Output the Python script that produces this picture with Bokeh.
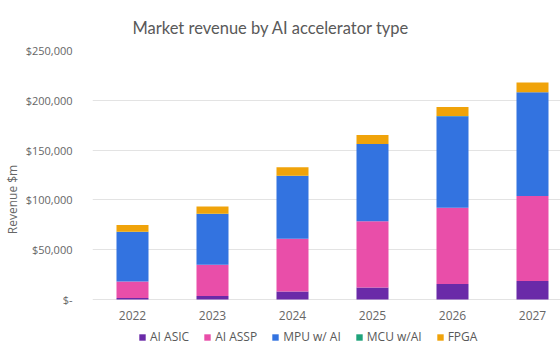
from bokeh.plotting import figure
from bokeh.models import ColumnDataSource, Range1d, FixedTicker, NumeralTickFormatter, Legend, Title
from bokeh.core.properties import value
from bokeh.embed import file_html
from bokeh.resources import INLINE

years = [2022, 2023, 2024, 2025, 2026, 2027]
year_labels = ["2022", "2023", "2024", "2025", "2026", "2027"]
ai_asic = [1500, 3500, 8000, 12000, 15500, 18500]
ai_assp = [16500, 31300, 53000, 66600, 76500, 85500]
mpu_ai = [49800, 51000, 63000, 77400, 92000, 104000]
mcu_ai = [200, 200, 200, 200, 200, 200]
fpga = [6700, 7300, 8500, 9000, 9000, 9700]
series = ["AI ASIC", "AI ASSP", "MPU w/ AI", "MCU w/AI", "FPGA"]
colors = ["#6a2aa8", "#e94ea9", "#3373e0", "#1fa37a", "#f0a30a"]
y_ticks = [0, 50000, 100000, 150000, 200000, 250000]

keys = ["asic", "assp", "mpu", "mcu", "fpga"]
source = ColumnDataSource(dict(x=years, asic=ai_asic, assp=ai_assp, mpu=mpu_ai, mcu=mcu_ai, fpga=fpga))
label_src = ColumnDataSource(dict(x=years, y=[0] * len(years), text=year_labels))

p = figure(width=560, height=348, output_backend="svg", toolbar_location=None,
           x_range=Range1d(2021.5, 2027.35), y_range=Range1d(-49200, 250000),
           min_border_left=92, min_border_right=0, min_border_top=50, min_border_bottom=0)
p.title = Title(text="Market revenue by AI accelerator type", align="left",
                text_font="Lato", text_font_size="16.5px", text_font_style="normal",
                text_color="#595959", offset=40, standoff=26)

renderers = p.vbar_stack(keys, x="x", width=0.4, source=source, color=colors, line_color=None)

p.text(x="x", y="y", text="text", source=label_src, y_offset=16,
       text_font=value("Open Sans"), text_font_size="12px", text_color="#666666",
       text_align="center", text_baseline="middle")

p.outline_line_color = None
p.xgrid.grid_line_color = None
p.ygrid.grid_line_color = "#e3e3e3"
p.ygrid.ticker = FixedTicker(ticks=y_ticks)

p.xaxis.visible = False

p.yaxis.ticker = FixedTicker(ticks=y_ticks)
p.yaxis.formatter = NumeralTickFormatter(format="$0,0")
p.yaxis.major_label_overrides = {0: "$-"}
p.yaxis.axis_line_color = None
p.yaxis.major_tick_line_color = None
p.yaxis.minor_tick_line_color = None
p.yaxis.major_label_text_font = "Open Sans"
p.yaxis.major_label_text_font_size = "11px"
p.yaxis.major_label_text_color = "#666666"
p.yaxis.major_label_standoff = 14
p.yaxis.axis_label = "Revenue $m"
p.yaxis.axis_label_text_font = "Open Sans"
p.yaxis.axis_label_text_font_size = "12px"
p.yaxis.axis_label_text_font_style = "normal"
p.yaxis.axis_label_text_color = "#666666"
p.yaxis.axis_label_standoff = 2

legend = Legend(items=[(s, [r]) for s, r in zip(series, renderers)],
                orientation="horizontal", location=(46, 3),
                label_text_font="Open Sans", label_text_font_size="12px",
                label_text_color="#595959", glyph_width=8, glyph_height=8,
                label_standoff=4, spacing=14, padding=0, margin=0,
                border_line_color=None, background_fill_alpha=0)
p.add_layout(legend, "center")

open("out.html", "w").write(file_html(p, INLINE))
